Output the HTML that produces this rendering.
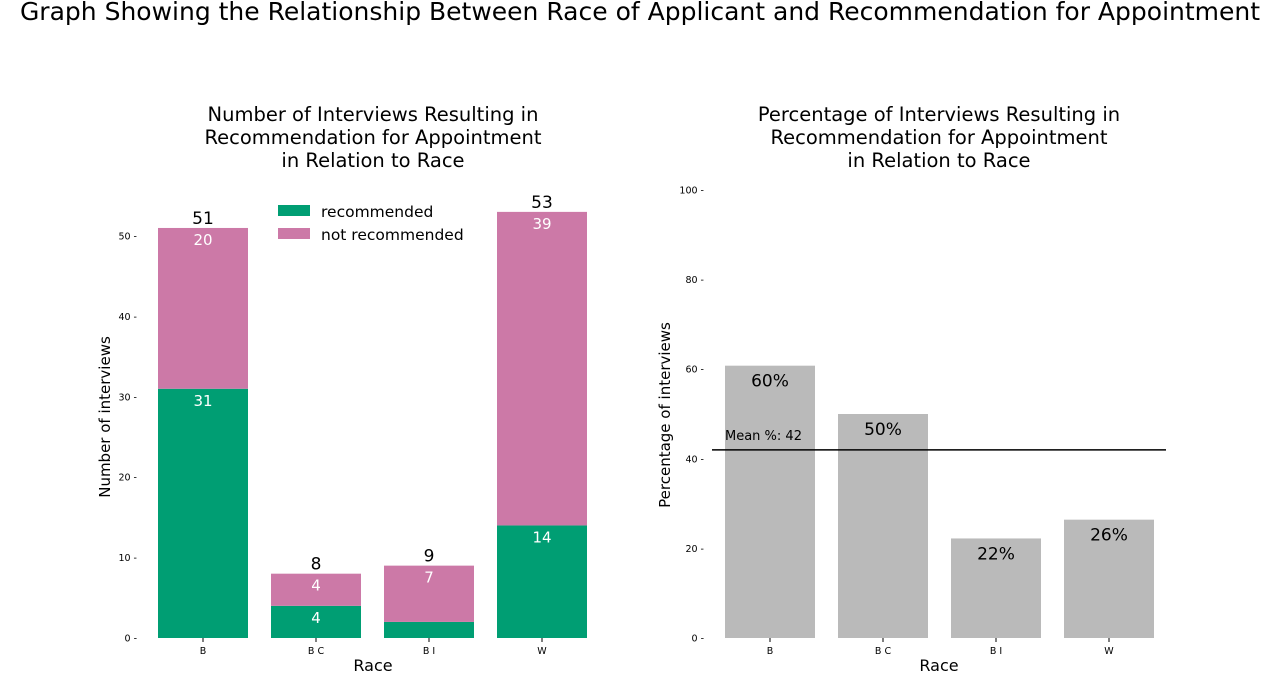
<!DOCTYPE html>
<html><head><meta charset="utf-8"><style>
body{margin:0;background:#fff;width:1280px;height:672px;overflow:hidden}
svg text{font-family:"DejaVu Sans","Liberation Sans",sans-serif}
</style></head><body>
<svg id="s" width="1280" height="672">
<text x="640" y="20" font-size="25" text-anchor="middle">Graph Showing the Relationship Between Race of Applicant and Recommendation for Appointment</text>
<g font-size="19.5" text-anchor="middle">
<text x="373" y="121">Number of Interviews Resulting in</text>
<text x="373" y="144">Recommendation for Appointment</text>
<text x="373" y="167">in Relation to Race</text></g>
<g font-size="19.5" text-anchor="middle">
<text x="939" y="121">Percentage of Interviews Resulting in</text>
<text x="939" y="144">Recommendation for Appointment</text>
<text x="939" y="167">in Relation to Race</text></g>
<text x="373" y="671" font-size="16" text-anchor="middle">Race</text>
<text x="939" y="671" font-size="16" text-anchor="middle">Race</text>
<text transform="translate(110,417) rotate(-90)" font-size="15" text-anchor="middle">Number of interviews</text>
<text transform="translate(670,415) rotate(-90)" font-size="15" text-anchor="middle">Percentage of interviews</text>
<g font-size="15.5">
<rect x="278" y="205" width="32" height="11" fill="#009e73"/>
<text x="321" y="217">recommended</text>
<rect x="278" y="228" width="32" height="11" fill="#cc79a7"/>
<text x="321" y="240">not recommended</text>
</g>
</svg>
<script>
const categories=["B","B C","B I","W"];
const recommended=[31,4,2,14];
const notRecommended=[20,4,7,39];
const leftTicks=[0,10,20,30,40,50];
const rightTicks=[0,20,40,60,80,100];
const meanPct=42;
const NS="http://www.w3.org/2000/svg",s=document.getElementById('s');
function mk(t,a,txt){const e=document.createElementNS(NS,t);for(const k in a)e.setAttribute(k,a[k]);if(txt!==undefined)e.textContent=txt;s.appendChild(e);return e;}
const yL=v=>638-v*8.04, yR=v=>638-v*4.48;
const xL=i=>158+i*113, xR=i=>725+i*113, bw=90;
leftTicks.forEach(v=>{const t=mk('text',{x:137,y:yL(v)+3.5,'font-size':9.5,'text-anchor':'end'},v+' -');

});
rightTicks.forEach(v=>{const t=mk('text',{x:704,y:yR(v)+3.5,'font-size':9.5,'text-anchor':'end'},v+' -');

});
categories.forEach((c,i)=>{
 const r=recommended[i],n=notRecommended[i],tot=r+n;
 let b=mk('rect',{x:xL(i),y:yL(r),width:bw,height:yL(0)-yL(r),fill:'#009e73'});
 
 
 b=mk('rect',{x:xL(i),y:yL(tot),width:bw,height:yL(r)-yL(tot),fill:'#cc79a7'});
 
 
 const cx=xL(i)+bw/2;
 let t=mk('text',{x:cx,y:yL(tot)-4,'font-size':17,'text-anchor':'middle'},tot);
 
 
 t=mk('text',{x:cx,y:yL(tot)+17,'font-size':15,'text-anchor':'middle',fill:'#fff'},n);
 
 
 if(r>=3){t=mk('text',{x:cx,y:yL(r)+17,'font-size':15,'text-anchor':'middle',fill:'#fff'},r);
 
 }
 t=mk('text',{x:cx,y:654,'font-size':9.5,'text-anchor':'middle'},c);
 
 
 mk('line',{x1:cx,x2:cx,y1:638,y2:642,stroke:'#000','stroke-width':1});
 const p=r/tot*100, rx=xR(i)+bw/2;
 b=mk('rect',{x:xR(i),y:yR(p),width:bw,height:yR(0)-yR(p),fill:'#bababa'});
 
 
 t=mk('text',{x:rx,y:yR(p)+21,'font-size':17,'text-anchor':'middle'},Math.floor(p)+'%');
 
 
 t=mk('text',{x:rx,y:654,'font-size':9.5,'text-anchor':'middle'},c);
 
 
 mk('line',{x1:rx,x2:rx,y1:638,y2:642,stroke:'#000','stroke-width':1});
});
let m=mk('line',{x1:712,x2:1166,y1:yR(meanPct),y2:yR(meanPct),stroke:'#000','stroke-width':1.5});


m=mk('text',{x:725,y:yR(meanPct)-10,'font-size':13},'Mean %: '+meanPct);


</script>
</body></html>
